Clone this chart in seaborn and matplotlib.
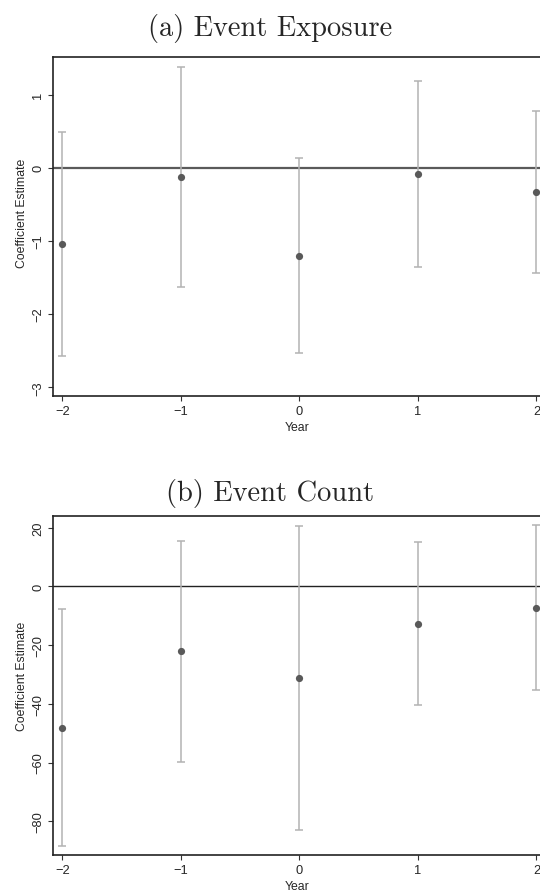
import matplotlib
matplotlib.use("Agg")
import matplotlib.pyplot as plt
import seaborn as sns
import pandas as pd

# Event-study coefficients with 95% confidence bounds
years = [-2, -1, 0, 1, 2]

exposure_coef = [-1.04, -0.12, -1.20, -0.09, -0.33]
exposure_lo = [-2.57, -1.63, -2.53, -1.35, -1.44]
exposure_hi = [0.49, 1.38, 0.14, 1.18, 0.78]

count_coef = [-48.3, -22.1, -31.2, -12.7, -7.3]
count_lo = [-88.4, -59.9, -83.1, -40.4, -35.3]
count_hi = [-7.8, 15.3, 20.6, 15.1, 20.9]

exposure_ticks = [-3, -2, -1, 0, 1]
count_ticks = [-80, -60, -40, -20, 0, 20]
year_ticks = [-2, -1, 0, 1, 2]

sns.set_theme(style="white")
plt.rcParams["font.family"] = ["Liberation Sans", "DejaVu Sans"]

fig = plt.figure(figsize=(5.4, 8.95), dpi=100)
ax_a = fig.add_axes([0.099, 0.5568, 0.901, 0.3781])
ax_b = fig.add_axes([0.099, 0.0439, 0.901, 0.3788])

POINT = "#595959"
BAR = "#b3b3b3"


def minus(v):
    return str(v).replace("-", "\u2212")


def draw_panel(ax, coef, lo, hi, ticks, ylim, zero_color, zero_lw, ylab_y):
    df = pd.DataFrame({"Year": years, "coef": coef, "lo": lo, "hi": hi})
    ax.axhline(0, color=zero_color, lw=zero_lw, zorder=1)
    ax.errorbar(df["Year"], df["coef"],
                yerr=[df["coef"] - df["lo"], df["hi"] - df["coef"]],
                fmt="none", ecolor=BAR, elinewidth=1.1, capsize=3,
                capthick=1.1, zorder=2)
    sns.scatterplot(data=df, x="Year", y="coef", ax=ax, color=POINT,
                    s=27, edgecolor=POINT, linewidth=0, zorder=3)
    ax.set_xlim(-2.075, 2.03)
    ax.set_ylim(*ylim)
    ax.set_xticks(year_ticks)
    ax.set_xticklabels([minus(t) for t in year_ticks])
    ax.set_yticks(ticks)
    ax.set_yticklabels([minus(t) for t in ticks], rotation=90, va="center")
    ax.tick_params(axis="both", which="major", direction="out", length=3.6,
                   width=0.8, color="#333333", labelsize=9.3, pad=3,
                   left=True, bottom=True)
    ax.set_xlabel("Year", fontsize=8.8, labelpad=3)
    ax.set_ylabel("Coefficient Estimate", fontsize=8.8, labelpad=4)
    ax.yaxis.set_label_coords(-0.052, ylab_y)
    for side in ["left", "top", "bottom"]:
        ax.spines[side].set_visible(True)
        ax.spines[side].set_color("#222222")
        ax.spines[side].set_linewidth(1.2)
    ax.spines["right"].set_visible(False)


draw_panel(ax_a, exposure_coef, exposure_lo, exposure_hi, exposure_ticks,
           (-3.115, 1.51), "#5a5a5a", 1.6, 0.543)
draw_panel(ax_b, count_coef, count_lo, count_hi, count_ticks,
           (-91.4, 24.05), "#222222", 1.0, 0.529)

title_font = ["cmr10", "DejaVu Serif"]
fig.text(0.5, 1 - 36 / 895, "(a) Event Exposure", ha="center",
         va="baseline", fontsize=20.5, family=title_font)
fig.text(0.5, 1 - 501 / 895, "(b) Event Count", ha="center",
         va="baseline", fontsize=20.5, family=title_font)

fig.savefig("out.png", dpi=100)
